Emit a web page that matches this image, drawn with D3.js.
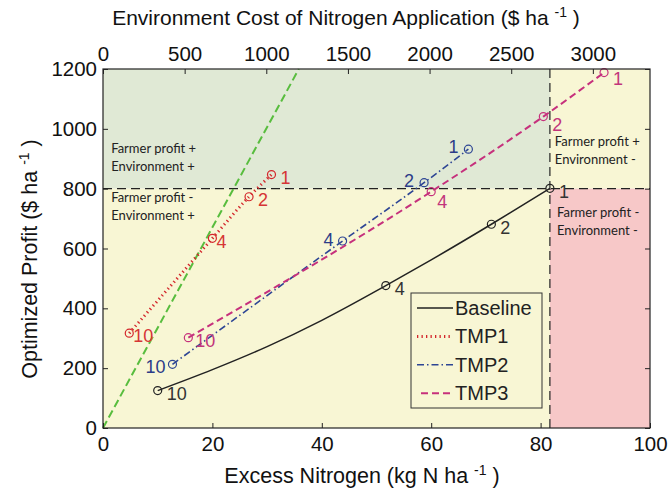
<!DOCTYPE html>
<html>
<head>
<meta charset="utf-8">
<script src="https://cdn.jsdelivr.net/npm/d3@7"></script>
<style>
body { margin: 0; background: #fff; }
text { font-family: "Liberation Sans", Arial, sans-serif; }
.note { font-family: Lato, "Open Sans", sans-serif; font-size: 13px; fill: #222; }
</style>
</head>
<body>
<div id="chart"></div>
<script>
// values
const markLabels = ['10', '4', '2', '1']

const baselineN = [10, 20, 30, 40, 51.7, 60, 71, 81.7]
const baselineProfit = [125, 195, 272, 360, 476, 562, 681, 801]
const baselineMarkN = [10, 51.7, 71, 81.7]
const baselineMarkProfit = [125, 476, 681, 801]

const tmp1N = [4.8, 20, 26.7, 30.8]
const tmp1Profit = [317, 634, 773, 847]

const tmp2N = [12.7, 43.8, 58.7, 66.8]
const tmp2Profit = [213, 625, 820, 932]

const tmp3N = [15.6, 60, 80.5, 91.6]
const tmp3Profit = [302, 790, 1041, 1188]

const breakEvenN = [0, 35.8]
const breakEvenProfit = [0, 1200]

const thresholdN = 81.7
const thresholdProfit = 800
const costPerKg = 33.5

const xTicks = [0, 20, 40, 60, 80, 100]
const yTicks = [0, 200, 400, 600, 800, 1000, 1200]
const costTicks = [0, 500, 1000, 1500, 2000, 2500, 3000]

const width = 670, height = 488
const margin = {top: 69, right: 20, bottom: 60, left: 103}

const svg = d3.select('#chart').append('svg')
.attr('width', width)
.attr('height', height)

let x = d3.scaleLinear().domain([0, 100]).range([margin.left, width - margin.right])
let y = d3.scaleLinear().domain([0, 1200]).range([height - margin.bottom, margin.top])
let xCost = d3.scaleLinear().domain([0, 100 * costPerKg]).range(x.range())

const green = '#e0e9d5', yellow = '#f8f6d4', pink = '#f7c8c8'

// quadrant backgrounds
const regions = [
	{x0: 0, x1: thresholdN, y0: thresholdProfit, y1: 1200, fill: green},
	{x0: 0, x1: thresholdN, y0: 0, y1: thresholdProfit, fill: yellow},
	{x0: thresholdN, x1: 100, y0: thresholdProfit, y1: 1200, fill: yellow},
	{x0: thresholdN, x1: 100, y0: 0, y1: thresholdProfit, fill: pink}
]

svg.append('g').selectAll('rect')
.data(regions)
.enter()
.append('rect')
.attr('x', d => x(d.x0))
.attr('y', d => y(d.y1))
.attr('width', d => x(d.x1) - x(d.x0))
.attr('height', d => y(d.y0) - y(d.y1))
.style('fill', d => d.fill)

// threshold lines
svg.append('line')
.attr('x1', x(0)).attr('x2', x(100))
.attr('y1', y(thresholdProfit)).attr('y2', y(thresholdProfit))
.style('stroke', '#222').style('stroke-width', 1.2).style('stroke-dasharray', '9,5')

svg.append('line')
.attr('x1', x(thresholdN)).attr('x2', x(thresholdN))
.attr('y1', y(0)).attr('y2', y(1200))
.style('stroke', '#222').style('stroke-width', 1.2).style('stroke-dasharray', '9,5')

// quadrant notes
const notes = [
	{n: 1.5, p: 918, lines: ['Farmer profit +', 'Environment +']},
	{n: 1.5, p: 754, lines: ['Farmer profit -', 'Environment +']},
	{n: 82.6, p: 941, lines: ['Farmer profit +', 'Environment -']},
	{n: 83, p: 705, lines: ['Farmer profit -', 'Environment -']}
]

notes.forEach(nt => {
	let t = svg.append('text').attr('class', 'note')
	.attr('x', x(nt.n)).attr('y', y(nt.p))
	nt.lines.forEach((l, i) => {
		t.append('tspan').attr('x', x(nt.n)).attr('dy', i ? 17.6 : 0).text(l)
	})
})

// break-even line
let line = d3.line().x(d => x(d[0])).y(d => y(d[1]))

svg.append('path')
.attr('d', line(d3.zip(breakEvenN, breakEvenProfit)))
.style('fill', 'none').style('stroke', '#58bd3e').style('stroke-width', 2)
.style('stroke-dasharray', '8,4')

const series = [
	{name: 'Baseline', n: baselineN, p: baselineProfit, mn: baselineMarkN, mp: baselineMarkProfit,
		color: '#222', text: '#333', dash: null, w: 1.5, lab: [[9, 3], [9, 3], [9, 3], [9, 3]], anchor: 'start'},
	{name: 'TMP1', n: tmp1N, p: tmp1Profit, mn: tmp1N, mp: tmp1Profit,
		color: '#d3262b', text: '#d63535', dash: '1.3,3.2', w: 3, lab: [[4, 3], [4, 3], [9, 3], [9, 3]], anchor: 'start'},
	{name: 'TMP2', n: tmp2N, p: tmp2Profit, mn: tmp2N, mp: tmp2Profit,
		color: '#2d4594', text: '#2c3c88', dash: '7,3,1.5,3', w: 1.6, lab: [[-7, 2], [-9, -1], [-10, -2], [-10, -2]], anchor: 'end'},
	{name: 'TMP3', n: tmp3N, p: tmp3Profit, mn: tmp3N, mp: tmp3Profit,
		color: '#c6307c', text: '#c2357b', dash: '7,4', w: 2, lab: [[7, 3], [6, 10], [9, 8], [9, 6]], anchor: 'start'}
]

let curved = d3.line().x(d => x(d[0])).y(d => y(d[1])).curve(d3.curveMonotoneX)

series.forEach(s => {
	let g = svg.append('g')
	g.append('path')
	.attr('d', curved(d3.zip(s.n, s.p)))
	.style('fill', 'none').style('stroke', s.color).style('stroke-width', s.w)
	.style('stroke-dasharray', s.dash)

	let pts = d3.zip(s.mn, s.mp, markLabels, s.lab)
	g.selectAll('circle')
	.data(pts)
	.enter()
	.append('circle')
	.attr('cx', d => x(d[0])).attr('cy', d => y(d[1])).attr('r', 4)
	.style('fill', 'none').style('stroke', s.color).style('stroke-width', 1.2)

	g.selectAll('text')
	.data(pts)
	.enter()
	.append('text')
	.attr('x', d => x(d[0]) + d[3][0])
	.attr('y', d => y(d[1]) + d[3][1])
	.attr('dy', '0.35em')
	.attr('text-anchor', s.anchor)
	.style('font-size', '18px')
	.style('fill', s.text)
	.text(d => d[2])
})

// legend
let legend = svg.append('g')
legend.append('rect')
.attr('x', 411).attr('y', 293).attr('width', 131).attr('height', 115)
.style('fill', yellow).style('stroke', '#333').style('stroke-width', 1)

series.forEach((s, i) => {
	let ly = 308 + i * 28.4
	legend.append('line')
	.attr('x1', s.name === 'TMP3' ? 421 : 417).attr('x2', 453)
	.attr('y1', ly).attr('y2', ly)
	.style('stroke', s.color).style('stroke-width', s.w)
	.style('stroke-dasharray', s.dash)
	legend.append('text')
	.attr('x', 455).attr('y', ly).attr('dy', '0.35em')
	.style('font-size', '20px').style('fill', '#222')
	.text(s.name)
})

// frame
svg.append('rect')
.attr('x', x(0)).attr('y', y(1200))
.attr('width', x(100) - x(0)).attr('height', y(0) - y(1200))
.style('fill', 'none').style('stroke', '#222').style('stroke-width', 1.2)

// axes, ticks inward
const tickStyle = g => {
	g.select('.domain').remove()
	g.selectAll('.tick line').style('stroke', '#222')
	g.selectAll('.tick text').style('font-size', '20.5px').style('fill', '#111')
}
const fmt = d3.format('d')

svg.append('g')
.attr('transform', `translate(0,${y(0)})`)
.call(d3.axisBottom(x).tickValues(xTicks).tickFormat(fmt).tickSizeInner(-5).tickSizeOuter(0).tickPadding(8))
.call(tickStyle)

svg.append('g')
.attr('transform', `translate(0,${y(1200)})`)
.call(d3.axisTop(xCost).tickValues(costTicks).tickFormat(fmt).tickSizeInner(-5).tickSizeOuter(0).tickPadding(8))
.call(tickStyle)

svg.append('g')
.attr('transform', `translate(${x(0)},0)`)
.call(d3.axisLeft(y).tickValues(yTicks).tickFormat(fmt).tickSizeInner(-5).tickSizeOuter(0).tickPadding(6))
.call(tickStyle)

svg.append('g')
.attr('transform', `translate(${x(100)},0)`)
.call(d3.axisRight(y).tickValues(yTicks).tickSizeInner(-5).tickSizeOuter(0).tickFormat(''))
.call(tickStyle)

// axis titles
const title = (t, main, size) => {
	t.style('font-size', size + 'px').style('fill', '#111').attr('text-anchor', 'middle')
	t.append('tspan').text(main + ' ha ')
	t.append('tspan').attr('dy', -8).style('font-size', '14px').text('-1')
	t.append('tspan').attr('dy', 8).text(' )')
}

svg.append('text').attr('x', 362).attr('y', 483)
.call(t => title(t, 'Excess Nitrogen (kg N', 21.5))

svg.append('text').attr('x', 346).attr('y', 25)
.call(t => title(t, 'Environment Cost of Nitrogen Application ($', 21))

svg.append('text')
.attr('transform', 'translate(37,259) rotate(-90)')
.call(t => title(t, 'Optimized Profit ($', 21.5))
</script>
</body>
</html>
